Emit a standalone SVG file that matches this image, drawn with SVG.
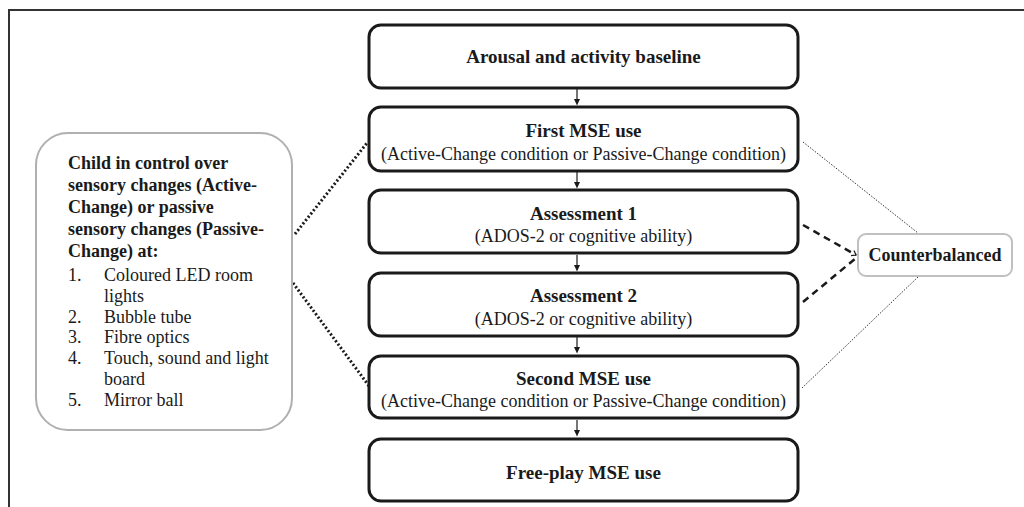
<svg xmlns="http://www.w3.org/2000/svg" width="1024" height="507" viewBox="0 0 1024 507">
<style>
.step{fill:#fff;stroke:#1a1a1a;stroke-width:3}
.t{font-family:"Liberation Serif","Times New Roman",serif;fill:#1a1a1a;font-size:18px}
.b{font-weight:bold}
.ttl{font-weight:bold;font-size:19px;text-anchor:middle}
.sub{text-anchor:middle}
.arr{stroke:#1a1a1a;stroke-width:1.2;fill:none}
.dotthick{stroke:#1a1a1a;stroke-width:3;stroke-dasharray:2 2.2;fill:none}
.dotthin{stroke:#333;stroke-width:1;stroke-dasharray:1.5 1.5;fill:none}
.dash{stroke:#1a1a1a;stroke-width:2.5;stroke-dasharray:7 5;fill:none}
</style>
<defs>
<marker id="ah" viewBox="0 0 6 7" refX="3" refY="7" markerWidth="6" markerHeight="7" markerUnits="userSpaceOnUse" orient="auto-start-reverse">
<path d="M0,0 L6,0 L3,7 Z" fill="#1a1a1a"/>
</marker>
<marker id="chev" viewBox="0 0 6 8" refX="5" refY="4" markerWidth="6" markerHeight="8" markerUnits="userSpaceOnUse" orient="auto">
<path d="M1,1 L5,4 L1,7" fill="none" stroke="#1a1a1a" stroke-width="1.2"/>
</marker>
</defs>
<rect width="1024" height="507" fill="#fff"/>
<path d="M9,507 V10 H1024" fill="none" stroke="#333" stroke-width="2"/>

<g id="connectors">
<line class="arr" x1="577" y1="89" x2="577" y2="99"/><path d="M574,99 L580,99 L577,105.5 Z" fill="#1a1a1a"/>
<line class="arr" x1="577" y1="172" x2="577" y2="182"/><path d="M574,182 L580,182 L577,188.5 Z" fill="#1a1a1a"/>
<line class="arr" x1="577" y1="255" x2="577" y2="265"/><path d="M574,265 L580,265 L577,271.5 Z" fill="#1a1a1a"/>
<line class="arr" x1="577" y1="337" x2="577" y2="347"/><path d="M574,347 L580,347 L577,353.5 Z" fill="#1a1a1a"/>
<line class="arr" x1="577" y1="420" x2="577" y2="430"/><path d="M574,430 L580,430 L577,436.5 Z" fill="#1a1a1a"/>
<line class="dotthick" x1="295" y1="234" x2="367" y2="143"/>
<line class="dotthick" x1="293" y1="283" x2="369" y2="386"/>
<line class="dotthin" x1="803" y1="142" x2="918" y2="233"/>
<line class="dotthin" x1="918" y1="277" x2="802" y2="388"/>
<line class="dash" x1="803" y1="225" x2="856" y2="255" marker-end="url(#chev)"/>
<line class="dash" x1="803" y1="302" x2="856" y2="258"/>
</g>

<g id="left-box">
<rect x="36" y="133" width="256" height="297" rx="32" fill="#fff" stroke="#b0b0b0" stroke-width="2"/>
<text class="t b" x="68" y="169">Child in control over</text>
<text class="t b" x="68" y="191">sensory changes (Active-</text>
<text class="t b" x="68" y="213">Change) or passive</text>
<text class="t b" x="68" y="235">sensory changes (Passive-</text>
<text class="t b" x="68" y="257">Change) at:</text>
<text class="t" x="68" y="281">1.</text><text class="t" x="104" y="281">Coloured LED room</text>
<text class="t" x="104" y="302">lights</text>
<text class="t" x="68" y="323">2.</text><text class="t" x="104" y="323">Bubble tube</text>
<text class="t" x="68" y="343">3.</text><text class="t" x="104" y="343">Fibre optics</text>
<text class="t" x="68" y="364">4.</text><text class="t" x="104" y="364">Touch, sound and light</text>
<text class="t" x="104" y="385">board</text>
<text class="t" x="68" y="406">5.</text><text class="t" x="104" y="406">Mirror ball</text>
</g>

<g id="baseline">
<rect class="step" x="369" y="25" width="429" height="63" rx="12"/>
<text class="t ttl" x="583.5" y="63">Arousal and activity baseline</text>
</g>
<g id="first-mse">
<rect class="step" x="369" y="107" width="429" height="64" rx="12"/>
<text class="t ttl" x="583.5" y="137">First MSE use</text>
<text class="t sub" x="583.5" y="160">(Active-Change condition or Passive-Change condition)</text>
</g>
<g id="assessment-1">
<rect class="step" x="369" y="190" width="429" height="63" rx="12"/>
<text class="t ttl" x="583.5" y="220">Assessment 1</text>
<text class="t sub" x="583.5" y="242">(ADOS-2 or cognitive ability)</text>
</g>
<g id="assessment-2">
<rect class="step" x="369" y="273" width="429" height="63" rx="12"/>
<text class="t ttl" x="583.5" y="302">Assessment 2</text>
<text class="t sub" x="583.5" y="325">(ADOS-2 or cognitive ability)</text>
</g>
<g id="second-mse">
<rect class="step" x="369" y="356" width="429" height="62" rx="12"/>
<text class="t ttl" x="583.5" y="385">Second MSE use</text>
<text class="t sub" x="583.5" y="407">(Active-Change condition or Passive-Change condition)</text>
</g>
<g id="free-play">
<rect class="step" x="369" y="439" width="429" height="62" rx="12"/>
<text class="t ttl" x="583.5" y="479">Free-play MSE use</text>
</g>
<g id="counterbalanced">
<rect x="858" y="234" width="154" height="42" rx="8" fill="#fff" stroke="#c0c0c0" stroke-width="2"/>
<text class="t b" x="935" y="261" text-anchor="middle">Counterbalanced</text>
</g>
</svg>
